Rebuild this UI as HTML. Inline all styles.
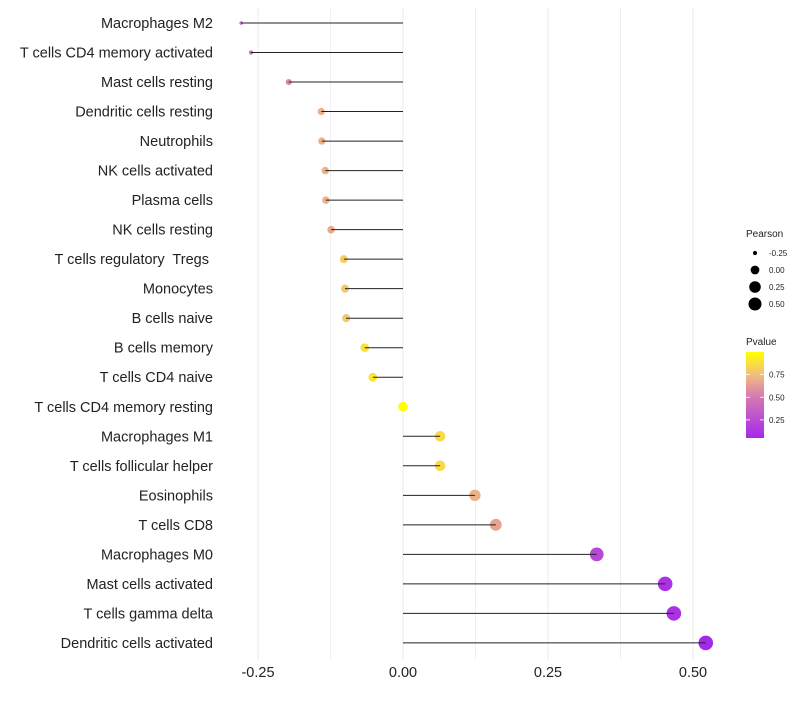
<!DOCTYPE html>
<html><head><meta charset="utf-8"><style>
body{margin:0;background:#fff;font-family:"Liberation Sans",sans-serif}
</style></head><body>
<svg id="chart" width="800" height="700" xmlns="http://www.w3.org/2000/svg"></svg>
<script>
const categories=["Macrophages M2","T cells CD4 memory activated","Mast cells resting","Dendritic cells resting","Neutrophils","NK cells activated","Plasma cells","NK cells resting","T cells regulatory  Tregs ","Monocytes","B cells naive","B cells memory","T cells CD4 naive","T cells CD4 memory resting","Macrophages M1","T cells follicular helper","Eosinophils","T cells CD8","Macrophages M0","Mast cells activated","T cells gamma delta","Dendritic cells activated"];
const pearson=[-0.279,-0.262,-0.197,-0.141,-0.140,-0.134,-0.133,-0.124,-0.102,-0.100,-0.098,-0.066,-0.052,0.0,0.064,0.064,0.124,0.160,0.334,0.452,0.467,0.522];
const pvalue=[0.42,0.45,0.55,0.7,0.7,0.7,0.7,0.68,0.8,0.78,0.78,0.88,0.9,1.0,0.86,0.86,0.7,0.65,0.22,0.1,0.1,0.05];
const xTicks=[-0.25,0,0.25,0.5];
const xTickLabels=["-0.25","0.00","0.25","0.50"];
const xMinor=[-0.125,0.125,0.375];
const sizeLegend=[-0.25,0,0.25,0.5];
const sizeLegendLabels=["-0.25","0.00","0.25","0.50"];
const pLegend=[0.25,0.5,0.75];
const pLegendLabels=["0.25","0.50","0.75"];

const NS="http://www.w3.org/2000/svg";
const svg=document.getElementById('chart');
const x=v=>403+v*580;
const y=i=>23+i*29.52;
const r=v=>Math.min(7.3,Math.sqrt(3.2+72*Math.max(0,v+0.28)));
const stops=[[0,[160,32,240]],[0.5,[212,120,180]],[0.75,[243,190,125]],[1,[255,255,0]]];
function col(p){for(let k=1;k<stops.length;k++){if(p<=stops[k][0]){const a=stops[k-1],b=stops[k];const t=(p-a[0])/(b[0]-a[0]);const c=a[1].map((v,j)=>Math.round(v+(b[1][j]-v)*t));return `rgb(${c})`;}}return 'rgb(255,255,0)';}
function el(t,a,p){const e=document.createElementNS(NS,t);for(const k in a)e.setAttribute(k,a[k]);(p||svg).appendChild(e);return e;}
xMinor.forEach(v=>{const l=el('line',{x1:x(v),x2:x(v),y1:8,y2:660,stroke:'#f0f0f0','stroke-width':1});

});
xTicks.forEach((v,i)=>{const l=el('line',{x1:x(v),x2:x(v),y1:8,y2:660,stroke:'#ebebeb','stroke-width':1});


const t=el('text',{x:x(v),y:677,'text-anchor':'middle','font-size':14.5,fill:'#222'});t.textContent=xTickLabels[i];

});
categories.forEach((c,i)=>{
const t=el('text',{x:213,y:y(i)+5,'text-anchor':'end','font-size':14.5,fill:'#222','xml:space':'preserve'});t.style.whiteSpace='pre';t.textContent=c;


const d=el('circle',{cx:x(pearson[i]),cy:y(i),r:r(pearson[i]),fill:col(pvalue[i])});


const l=el('line',{x1:x(0),x2:x(pearson[i]),y1:y(i),y2:y(i),stroke:'#222','stroke-width':1});


});
const t1=el('text',{x:746,y:237,'font-size':10,fill:'#222'});t1.textContent='Pearson';


sizeLegend.forEach((v,i)=>{const cy=253+i*17;
const c=el('circle',{cx:755,cy:cy,r:Math.min(r(v)*0.9,6.5),fill:'#000'});


const t=el('text',{x:769,y:cy+3,'font-size':8,fill:'#222'});t.textContent=sizeLegendLabels[i];

});
const t2=el('text',{x:746,y:345,'font-size':10,fill:'#222'});t2.textContent='Pvalue';


const defs=el('defs',{});const g=el('linearGradient',{id:'pg',x1:0,y1:1,x2:0,y2:0},defs);
[[0,0.05],[0.5,0.5],[0.75,0.75],[1,1]].forEach(s=>el('stop',{offset:((s[1]-0.05)/0.95),'stop-color':col(s[1])},g));
const py=p=>438-(p-0.05)/0.95*86;
const bar=el('rect',{x:746,y:352,width:18,height:86,fill:'url(#pg)'});


pLegend.forEach((v,i)=>{
el('line',{x1:746,x2:750,y1:py(v),y2:py(v),stroke:'#fff','stroke-width':0.8});
el('line',{x1:760,x2:764,y1:py(v),y2:py(v),stroke:'#fff','stroke-width':0.8});
const t=el('text',{x:769,y:py(v)+3,'font-size':8,fill:'#222'});t.textContent=pLegendLabels[i];

});
</script>
</body></html>
